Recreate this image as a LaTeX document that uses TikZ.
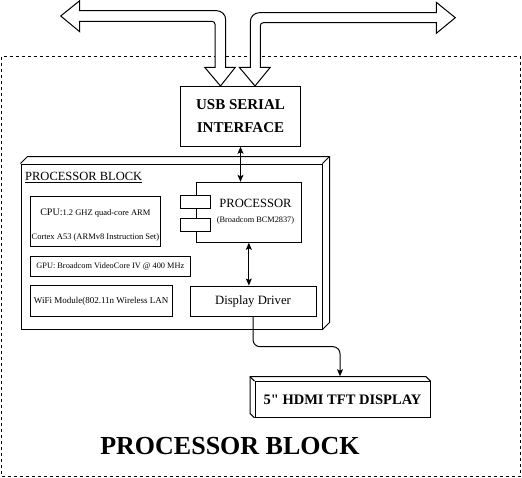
\documentclass[tikz,border=0pt]{standalone}
\usepackage{fontspec}
\setmainfont{Liberation Serif}
\usetikzlibrary{positioning,arrows.meta,calc}

\newcommand{\fsz}[1]{\fontsize{#1}{#1}\selectfont}

\begin{document}
\begin{tikzpicture}[
  x=1pt, y=-1pt,
  box/.style={draw, line width=1pt, fill=white, inner sep=0pt, align=center},
  edge3d/.style={draw, line width=1pt},
  fat/.style={draw, line width=1pt, fill=white, line join=miter},
  arr/.style={line width=1pt, -{Stealth[length=7pt, width=6pt, inset=1.5pt]}},
  dblarr/.style={line width=1pt, {Stealth[length=7pt, width=6pt, inset=1.5pt]}-{Stealth[length=7pt, width=6pt, inset=1.5pt]}}
]
\useasboundingbox (0,0) rectangle (522,477);
\draw[line width=1pt, dash pattern=on 3pt off 3pt] (1,56.7) rectangle (520.5,476);

\path[fat] (220.5,86) -- (235.3,67.3) -- (225.7,67.3) [rounded corners=9pt] -- (225.7,10.7) [sharp corners] -- (79.7,10.7) -- (79.7,0.7) -- (60.7,16) -- (79.7,31.7) -- (79.7,21.3) [rounded corners=3pt] -- (215,21.3) [sharp corners] -- (215,67.3) -- (204.7,67.3) -- cycle;
\path[fat] (255,86) -- (239.3,67.3) -- (250.3,67.3) [rounded corners=9pt] -- (250.3,12.7) [sharp corners] -- (436.3,12.7) -- (436.3,2.3) -- (455.3,17.7) -- (436.3,33.3) -- (436.3,22.7) [rounded corners=3pt] -- (260.3,22.7) [sharp corners] -- (260.3,67.3) -- (270.3,67.3) -- cycle;

\node[box, minimum width=120.4pt, minimum height=60pt, font=\fontsize{15}{23}\selectfont\bfseries] (usb) at (240.5,116.3) {USB SERIAL\\INTERFACE};

\node[box, minimum width=301pt, minimum height=165pt] (blk) at (171.5,246.5) {};
\draw[edge3d] (blk.north west) -- ++(7,-7) -| ($(blk.south east)+(7,-7)$) -- (blk.south east);
\draw[edge3d] (blk.north east) -- ++(7,-7);
\node[font=\fsz{12.5}, anchor=base west, inner sep=0pt] (blklbl) at (25,180.5) {\underline{PROCESSOR BLOCK}};

\node[box, minimum width=105.7pt, minimum height=60pt] (proc) at (248.85,212.3) {};
\node[box, minimum width=29.3pt, minimum height=13pt] (tabA) at (195.35,201.7) {};
\node[box, minimum width=29.3pt, minimum height=13pt] (tabB) at (195.35,224.7) {};
\node[align=center, font=\fsz{12.6}, inner sep=0pt] (proclbl) at (255.5,212) {PROCESSOR\\[2pt]{\fsz{8.3}(Broadcom BCM2837)}};

\node[box, minimum width=130.7pt, minimum height=50pt] (cpu) at (95.35,221) {};
\node[align=center, font=\fsz{8.5}, inner sep=0pt] (cpulbl) at (95.35,225) {{\fsz{10}CPU:}1.2 GHZ quad-core ARM\\[15.5pt]Cortex A53 (ARMv8 Instruction Set)};
\node[box, minimum width=160.7pt, minimum height=20.7pt, font=\fsz{8.3}] (gpu) at (110.35,266.35) {GPU: Broadcom VideoCore IV @ 400 MHz};
\node[box, minimum width=142.3pt, minimum height=31.7pt, font=\fsz{9}] (wifi) at (101.15,300.85) {WiFi Module(802.11n Wireless LAN};
\node[box, minimum width=126pt, minimum height=30.7pt, font=\fsz{12.7}] (drv) at (253,301.35) {Display Driver};

\node[box, minimum width=175pt, minimum height=35.6pt, font=\bfseries\fsz{14.5}\addfontfeatures{Ligatures=TeXOff}] (disp) at (342.5,399.5) {5" HDMI TFT DISPLAY};
\draw[edge3d] (disp.south west) -- ++(-4.5,-4.5) |- ($(disp.north east)+(-4.5,-4.5)$) -- (disp.north east);
\draw[edge3d] (disp.north west) -- ++(-4.5,-4.5);

\node[font=\bfseries\fsz{26}] (title) at (230,446) {PROCESSOR BLOCK};

\coordinate (dispin) at ($(disp.north)+(-2.5,-5)$);
\draw[dblarr] (usb.south) -- (usb.south |- proc.north);
\draw[dblarr] (proc.south) -- (proc.south |- drv.north);
\draw[arr, rounded corners=7pt] (drv.south) |- ($(drv.south)!.5!(dispin)$) -| (dispin);
\end{tikzpicture}
\end{document}
